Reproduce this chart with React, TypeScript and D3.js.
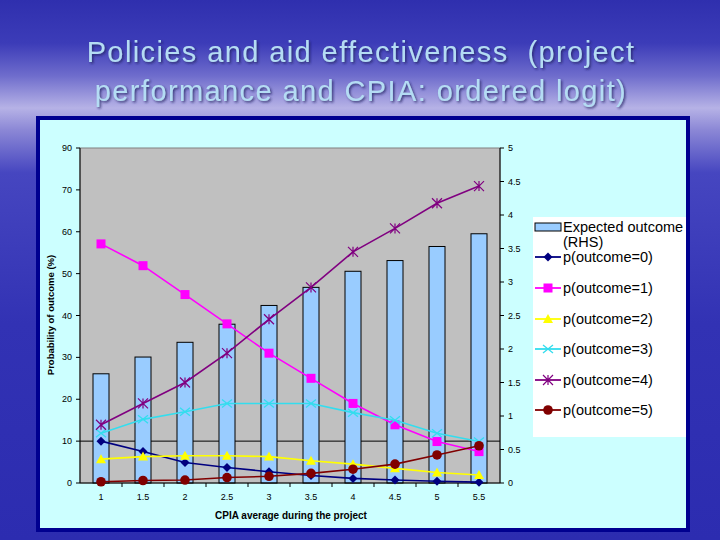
import React from "react";
import * as d3 from "d3";

const categories = ["1", "1.5", "2", "2.5", "3", "3.5", "4", "4.5", "5", "5.5"];
const expectedOutcome = [1.63, 1.88, 2.1, 2.37, 2.65, 2.92, 3.16, 3.32, 3.53, 3.72];
const p0 = [10, 7.5, 4.9, 3.7, 2.7, 1.8, 1.1, 0.7, 0.4, 0.2];
const p1 = [57.1, 51.9, 45.0, 38.0, 31.0, 25.0, 19.0, 13.9, 9.9, 7.5];
const p2 = [5.7, 6.3, 6.5, 6.5, 6.3, 5.3, 4.5, 3.5, 2.5, 1.9];
const p3 = [11.9, 15.2, 17.0, 19.0, 19.0, 19.0, 16.8, 15.0, 11.9, 9.9];
const p4 = [13.9, 19.0, 24.0, 31.0, 39.1, 46.7, 55.2, 60.8, 66.8, 70.9];
const p5 = [0.3, 0.6, 0.7, 1.3, 1.6, 2.3, 3.3, 4.5, 6.7, 8.9];
const leftTickValues = [0, 10, 20, 30, 40, 50, 60, 70, 80];
const leftTickLabels = ["0", "10", "20", "30", "40", "50", "60", "70", "90"];
const rightTickValues = [0, 0.5, 1, 1.5, 2, 2.5, 3, 3.5, 4, 4.5, 5];
const rightTickLabels = ["0", "0.5", "1", "1.5", "2", "2.5", "3", "3.5", "4", "4.5", "5"];
const seriesNames = ["p(outcome=0)", "p(outcome=1)", "p(outcome=2)", "p(outcome=3)", "p(outcome=4)", "p(outcome=5)"];
const barName = ["Expected outcome", "(RHS)"];
const titleLines = ["Policies and aid effectiveness  (project", "performance and CPIA: ordered logit)"];

const FONT = "'Liberation Sans', Arial, sans-serif";

type Marker = "diamond" | "square" | "triangle" | "x" | "star" | "circle";
const seriesDefs: { values: number[]; color: string; marker: Marker }[] = [
  { values: p0, color: "#000080", marker: "diamond" },
  { values: p1, color: "#FF00FF", marker: "square" },
  { values: p2, color: "#FFFF00", marker: "triangle" },
  { values: p3, color: "#33DDEE", marker: "x" },
  { values: p4, color: "#800080", marker: "star" },
  { values: p5, color: "#800000", marker: "circle" },
];

function MarkerShape({ type, cx, cy, color }: { type: Marker; cx: number; cy: number; color: string }) {
  const s = 4.5;
  if (type === "diamond")
    return <path d={`M${cx},${cy - s}L${cx + s},${cy}L${cx},${cy + s}L${cx - s},${cy}Z`} fill={color} />;
  if (type === "square") return <rect x={cx - 4.5} y={cy - 4.5} width={9} height={9} fill={color} />;
  if (type === "triangle")
    return <path d={`M${cx},${cy - 5}L${cx + 5},${cy + 4}L${cx - 5},${cy + 4}Z`} fill={color} />;
  if (type === "circle") return <circle cx={cx} cy={cy} r={4.8} fill={color} />;
  if (type === "x")
    return (
      <path d={`M${cx - 5},${cy - 4}L${cx + 5},${cy + 4}M${cx - 5},${cy + 4}L${cx + 5},${cy - 4}`} stroke={color} strokeWidth={1.3} />
    );
  return (
    <path
      d={`M${cx - 5},${cy - 5}L${cx + 5},${cy + 5}M${cx - 5},${cy + 5}L${cx + 5},${cy - 5}M${cx},${cy - 5}L${cx},${cy + 5}`}
      stroke={color}
      strokeWidth={1.2}
    />
  );
}

export default function App() {
  const W = 720, H = 540;
  const plot = { left: 80, right: 500, top: 148, bottom: 483 };
  const x = d3.scaleBand<string>().domain(categories).range([plot.left, plot.right]).padding(0);
  const yL = d3.scaleLinear().domain([0, 80]).range([plot.bottom, plot.top]);
  const yR = d3.scaleLinear().domain([0, 5]).range([plot.bottom, plot.top]);
  const cx = (c: string) => (x(c) as number) + x.bandwidth() / 2;
  const barW = 16;
  const line = d3
    .line<number>()
    .x((_, i) => cx(categories[i]))
    .y((d) => yL(d));

  const legendX = 533, legendY = 217;
  const rowY = [257, 288, 319, 349, 380, 410];

  return (
    <svg width={W} height={H} style={{ position: "absolute", left: 0, top: 0 }} xmlns="http://www.w3.org/2000/svg">
      <defs>
        <linearGradient id="bg" x1="0" y1="0" x2="0" y2="1">
          <stop offset="0" stopColor="#2f2fae" />
          <stop offset="0.08" stopColor="#3c3cb8" />
          <stop offset="0.14" stopColor="#6e6ccc" />
          <stop offset="0.2" stopColor="#b6b2e6" />
          <stop offset="0.24" stopColor="#8c88d6" />
          <stop offset="0.32" stopColor="#4646c0" />
          <stop offset="0.6" stopColor="#3232b4" />
          <stop offset="1" stopColor="#2c2cb0" />
        </linearGradient>
        <filter id="shadow" x="-5%" y="-5%" width="110%" height="120%">
          <feDropShadow dx="1.5" dy="1.5" stdDeviation="0.8" floodColor="#202060" floodOpacity="0.8" />
        </filter>
      </defs>
      <rect x={0} y={0} width={W} height={H} fill="url(#bg)" />

      {/* title */}
      <g fontFamily={FONT} fontSize={29} fill="#b4dcf4" textAnchor="middle" filter="url(#shadow)" letterSpacing={1.4}>
        <text x={361} y={62} style={{ whiteSpace: "pre" }}>{titleLines[0]}</text>
        <text x={361} y={101} style={{ whiteSpace: "pre" }}>{titleLines[1]}</text>
      </g>

      {/* frame */}
      <rect x={38} y={118} width={650} height={412} fill="#CCFFFF" stroke="#000090" strokeWidth={4} />

      {/* plot area */}
      <rect x={plot.left} y={plot.top} width={plot.right - plot.left} height={plot.bottom - plot.top} fill="#C0C0C0" stroke="#808080" strokeWidth={1} />
      <line x1={plot.left} x2={plot.right} y1={yL(10)} y2={yL(10)} stroke="#000" strokeWidth={1} />

      {/* bars */}
      {categories.map((c, i) => (
        <rect
          key={c}
          x={cx(c) - barW / 2}
          y={yR(expectedOutcome[i])}
          width={barW}
          height={plot.bottom - yR(expectedOutcome[i])}
          fill="#99CCFF"
          stroke="#000"
          strokeWidth={1}
        />
      ))}

      {/* axes lines */}
      <line x1={plot.left} x2={plot.left} y1={plot.top} y2={plot.bottom} stroke="#000" />
      <line x1={plot.right} x2={plot.right} y1={plot.top} y2={plot.bottom} stroke="#000" />
      <line x1={plot.left} x2={plot.right} y1={plot.bottom} y2={plot.bottom} stroke="#000" />

      {/* ticks */}
      <g fontFamily={FONT} fontSize={9} fill="#000">
        {leftTickValues.map((v, i) => (
          <g key={v}>
            <line x1={plot.left - 4} x2={plot.left} y1={yL(v)} y2={yL(v)} stroke="#000" />
            <text x={plot.left - 8} y={yL(v) + 3} textAnchor="end">{leftTickLabels[i]}</text>
          </g>
        ))}
        {rightTickValues.map((v, i) => (
          <g key={v}>
            <line x1={plot.right} x2={plot.right + 4} y1={yR(v)} y2={yR(v)} stroke="#000" />
            <text x={plot.right + 8} y={yR(v) + 3} textAnchor="start">{rightTickLabels[i]}</text>
          </g>
        ))}
        {categories.map((c) => (
          <text key={c} x={cx(c)} y={plot.bottom + 17} textAnchor="middle">{c}</text>
        ))}
        {categories.slice(1).map((c) => (
          <line key={"t" + c} x1={x(c) as number} x2={x(c) as number} y1={plot.bottom} y2={plot.bottom + 4} stroke="#000" />
        ))}
      </g>

      {/* lines */}
      {seriesDefs.map((s, k) => (
        <g key={k}>
          <path d={line(s.values) || ""} fill="none" stroke={s.color} strokeWidth={1.6} />
          {s.values.map((v, i) => (
            <MarkerShape key={i} type={s.marker} cx={cx(categories[i])} cy={yL(v)} color={s.color} />
          ))}
        </g>
      ))}

      {/* axis titles */}
      <text
        fontFamily={FONT}
        fontSize={9.5}
        fontWeight="bold"
        textAnchor="middle"
        transform={`translate(54,315) rotate(-90)`}
      >
        Probability of outcome (%)
      </text>
      <text fontFamily={FONT} fontSize={10} fontWeight="bold" textAnchor="middle" x={291} y={519}>
        CPIA average during the project
      </text>

      {/* legend */}
      <rect x={legendX} y={legendY} width={153} height={220} fill="#FFFFFF" />
      <g fontFamily={FONT} fontSize={14.5} fill="#000">
        <rect x={535} y={223} width={26} height={8} fill="#99CCFF" stroke="#000" strokeWidth={1} />
        <text x={563} y={232}>{barName[0]}</text>
        <text x={563} y={247}>{barName[1]}</text>
        {seriesDefs.map((s, k) => (
          <g key={k}>
            <line x1={535} x2={561} y1={rowY[k]} y2={rowY[k]} stroke={s.color} strokeWidth={1.8} />
            <MarkerShape type={s.marker} cx={548} cy={rowY[k]} color={s.color} />
            <text x={563} y={rowY[k] + 5}>{seriesNames[k]}</text>
          </g>
        ))}
      </g>
    </svg>
  );
}
